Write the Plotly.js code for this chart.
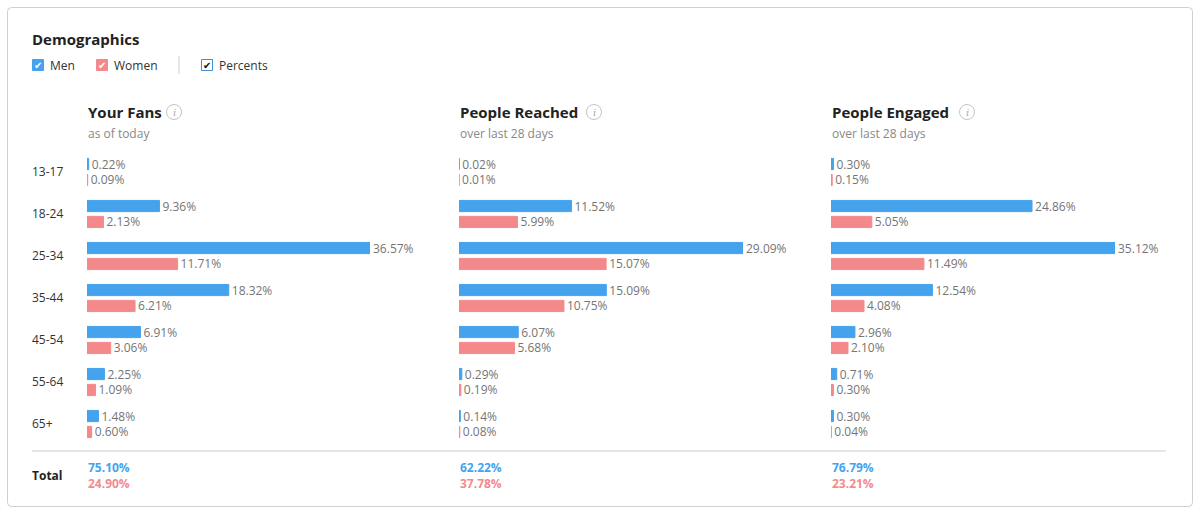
<!DOCTYPE html>
<html>
<head>
<meta charset="utf-8">
<script src="https://cdn.plot.ly/plotly-3.0.1.min.js"></script>
<style>
  html, body { margin: 0; padding: 0; background: #fff; }
  #chart { width: 1201px; height: 514px; }
</style>
</head>
<body>
<div id="chart"></div>
<script>
// age groups (rows)
const ages = ['13-17', '18-24', '25-34', '35-44', '45-54', '55-64', '65+'];

// panels
const panelTitles = ['Your Fans', 'People Reached', 'People Engaged'];
const panelSubtitles = ['as of today', 'over last 28 days', 'over last 28 days'];

// values in percent
const fansMen = [0.22, 9.36, 36.57, 18.32, 6.91, 2.25, 1.48];
const fansWomen = [0.09, 2.13, 11.71, 6.21, 3.06, 1.09, 0.60];
const reachedMen = [0.02, 11.52, 29.09, 15.09, 6.07, 0.29, 0.14];
const reachedWomen = [0.01, 5.99, 15.07, 10.75, 5.68, 0.19, 0.08];
const engagedMen = [0.30, 24.86, 35.12, 12.54, 2.96, 0.71, 0.30];
const engagedWomen = [0.15, 5.05, 11.49, 4.08, 2.10, 0.30, 0.04];

// totals row
const totalMen = [75.10, 62.22, 76.79];
const totalWomen = [24.90, 37.78, 23.21];

const MEN = '#45a3ee';
const WOMEN = '#f4898c';
const FONT = '"Open Sans", "Noto Sans", sans-serif';

// pixel -> paper helpers
const W = 1201, H = 514;
const px = v => v / W;
const py = v => 1 - v / H;

const fmt = v => v.toFixed(2) + '%';

const panels = [
    { men: fansMen, women: fansWomen, x0: 87, x1: 370 },
    { men: reachedMen, women: reachedWomen, x0: 459, x1: 743 },
    { men: engagedMen, women: engagedWomen, x0: 831, x1: 1115 }
];

const data = [];
const layout = {
    width: W,
    height: H,
    margin: { l: 0, r: 0, t: 0, b: 0 },
    paper_bgcolor: '#fff',
    plot_bgcolor: 'rgba(0,0,0,0)',
    showlegend: false,
    barmode: 'group',
    bargap: 0.24,
    bargroupgap: 0.3,
    font: { family: FONT, color: '#333' },
    yaxis: {
        type: 'category',
        categoryarray: ages,
        range: [ages.length - 0.5, -0.5],
        domain: [py(445), py(151)],
        anchor: 'free',
        position: px(28),
        ticklabelposition: 'inside',
        ticks: '',
        showline: false,
        showgrid: false,
        zeroline: false,
        tickfont: { size: 12, color: '#333', family: FONT },
        fixedrange: true
    },
    shapes: [],
    annotations: []
};

panels.forEach((p, i) => {
    const xa = i === 0 ? 'x' : 'x' + (i + 1);
    const xaKey = i === 0 ? 'xaxis' : 'xaxis' + (i + 1);
    const maxVal = Math.max(...p.men, ...p.women);
    layout[xaKey] = {
        domain: [px(p.x0), px(p.x1)],
        range: [0, maxVal],
        anchor: 'y',
        visible: false,
        fixedrange: true
    };
    [['Men', p.men, MEN], ['Women', p.women, WOMEN]].forEach(([name, vals, col]) => {
        data.push({
            type: 'bar',
            orientation: 'h',
            name: name,
            x: vals,
            y: ages,
            xaxis: xa,
            yaxis: 'y',
            marker: { color: col, line: { color: col, width: 1 } },
            text: vals.map(fmt),
            textposition: 'outside',
            constraintext: 'none',
            cliponaxis: false,
            textfont: { size: 12, color: '#757575', family: FONT },
            hoverinfo: 'name+x'
        });
    });

    // panel header
    layout.annotations.push({
        xref: 'paper', yref: 'paper', x: px(p.x0 - 1), y: py(112),
        xanchor: 'left', yanchor: 'middle', showarrow: false,
        text: '<b>' + panelTitles[i] + '</b>',
        font: { size: 15, color: '#222', family: FONT }
    });
    layout.annotations.push({
        xref: 'paper', yref: 'paper', x: px(p.x0 - 1), y: py(134),
        xanchor: 'left', yanchor: 'middle', showarrow: false,
        text: panelSubtitles[i],
        font: { size: 12, color: '#888', family: FONT }
    });

    // totals
    layout.annotations.push({
        xref: 'paper', yref: 'paper', x: px(p.x0 - 1), y: py(467),
        xanchor: 'left', yanchor: 'middle', showarrow: false,
        text: '<b>' + fmt(totalMen[i]) + '</b>',
        font: { size: 12, color: MEN, family: FONT }
    });
    layout.annotations.push({
        xref: 'paper', yref: 'paper', x: px(p.x0 - 1), y: py(483),
        xanchor: 'left', yanchor: 'middle', showarrow: false,
        text: '<b>' + fmt(totalWomen[i]) + '</b>',
        font: { size: 12, color: WOMEN, family: FONT }
    });
});

// info icons next to panel titles
const infoX = [174, 594, 967];
infoX.forEach(cx => {
    layout.shapes.push({
        type: 'circle', xref: 'paper', yref: 'paper',
        x0: px(cx - 7.5), x1: px(cx + 7.5), y0: py(112 - 7.5), y1: py(112 + 7.5),
        line: { color: '#c4c4c4', width: 1 }, fillcolor: 'rgba(0,0,0,0)'
    });
    layout.annotations.push({
        xref: 'paper', yref: 'paper', x: px(cx), y: py(112),
        xanchor: 'center', yanchor: 'middle', showarrow: false,
        text: '<i>i</i>', font: { size: 10, color: '#aaa', family: 'DejaVu Serif' }
    });
});

// card border (rounded)
const r = 4, bx0 = 7.5, bx1 = 1192.5, by0 = 7.5, by1 = 506.5;
layout.shapes.push({
    type: 'path', xref: 'paper', yref: 'paper', layer: 'below',
    path: `M ${px(bx0 + r)} ${py(by0)} L ${px(bx1 - r)} ${py(by0)} Q ${px(bx1)} ${py(by0)} ${px(bx1)} ${py(by0 + r)} ` +
          `L ${px(bx1)} ${py(by1 - r)} Q ${px(bx1)} ${py(by1)} ${px(bx1 - r)} ${py(by1)} ` +
          `L ${px(bx0 + r)} ${py(by1)} Q ${px(bx0)} ${py(by1)} ${px(bx0)} ${py(by1 - r)} ` +
          `L ${px(bx0)} ${py(by0 + r)} Q ${px(bx0)} ${py(by0)} ${px(bx0 + r)} ${py(by0)} Z`,
    line: { color: '#cfcfcf', width: 1 }, fillcolor: '#fff'
});

// separator above totals
layout.shapes.push({
    type: 'line', xref: 'paper', yref: 'paper',
    x0: px(32), x1: px(1166), y0: py(451), y1: py(451),
    line: { color: '#cccccc', width: 1 }
});

// separator between legend toggles
layout.shapes.push({
    type: 'line', xref: 'paper', yref: 'paper',
    x0: px(179), x1: px(179), y0: py(56), y1: py(74),
    line: { color: '#d0d0d0', width: 1 }
});

// checkboxes: Men, Women, Percents
const boxes = [
    { x: 32, fill: MEN, line: MEN, check: '#fff', label: 'Men' },
    { x: 96, fill: WOMEN, line: WOMEN, check: '#fff', label: 'Women' },
    { x: 201, fill: '#fff', line: '#3d8fd8', check: '#111', label: 'Percents' }
];
boxes.forEach(b => {
    layout.shapes.push({
        type: 'rect', xref: 'paper', yref: 'paper',
        x0: px(b.x + 0.5), x1: px(b.x + 11.5), y0: py(59.5), y1: py(70.5),
        line: { color: b.line, width: 1 }, fillcolor: b.fill
    });
    layout.annotations.push({
        xref: 'paper', yref: 'paper', x: px(b.x + 6), y: py(65),
        xanchor: 'center', yanchor: 'middle', showarrow: false,
        text: '✔', font: { size: 10, color: b.check, family: 'DejaVu Sans' }
    });
    layout.annotations.push({
        xref: 'paper', yref: 'paper', x: px(b.x + 16), y: py(65),
        xanchor: 'left', yanchor: 'middle', showarrow: false,
        text: b.label, font: { size: 12, color: '#333', family: FONT }
    });
});

// title and totals label
layout.annotations.push({
    xref: 'paper', yref: 'paper', x: px(30), y: py(39),
    xanchor: 'left', yanchor: 'middle', showarrow: false,
    text: '<b>Demographics</b>', font: { size: 15, color: '#222', family: FONT }
});
layout.annotations.push({
    xref: 'paper', yref: 'paper', x: px(30), y: py(475),
    xanchor: 'left', yanchor: 'middle', showarrow: false,
    text: '<b>Total</b>', font: { size: 12, color: '#222', family: FONT }
});

Plotly.newPlot('chart', data, layout, { displayModeBar: false, staticPlot: true });
</script>
</body>
</html>
